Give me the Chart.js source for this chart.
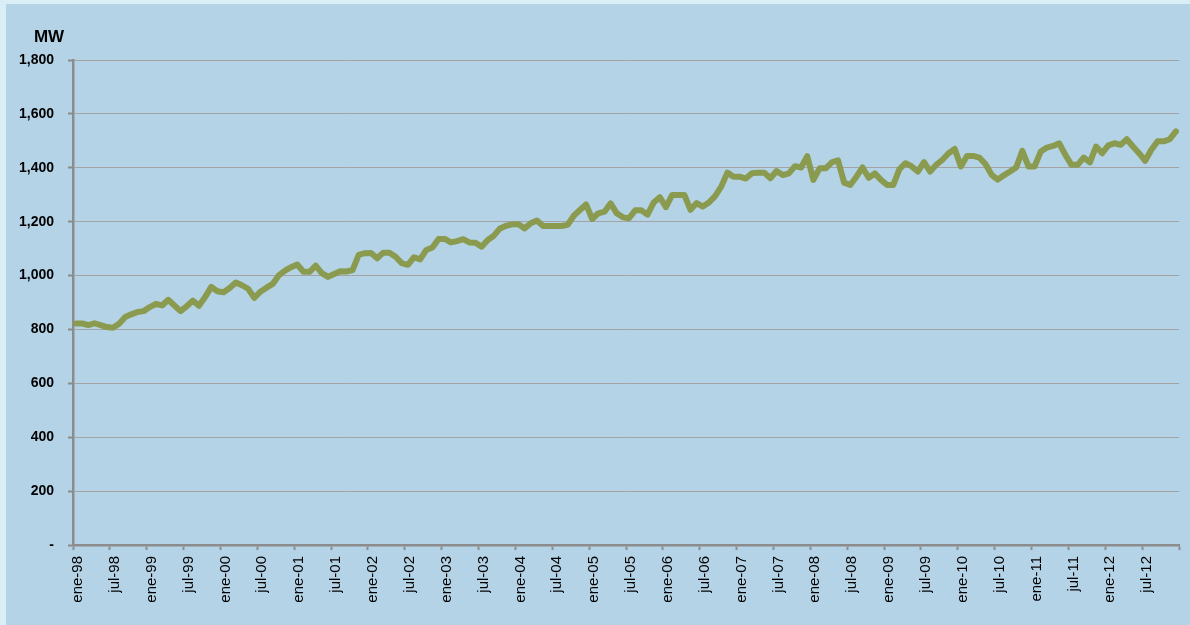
<!DOCTYPE html>
<html>
<head>
<meta charset="utf-8">
<script src="https://cdn.jsdelivr.net/npm/chart.js@4.4.0/dist/chart.umd.min.js"></script>
<style>
    html, body {
        margin: 0;
        padding: 0;
        background: #d9eef5;
        width: 1190px;
        height: 625px;
        overflow: hidden;
    }
    #panel {
        position: absolute;
        left: 6px;
        top: 4px;
        width: 1184px;
        height: 621px;
        background: #b4d3e6;
    }
</style>
</head>
<body>
<div id="panel"><canvas id="demanda"></canvas></div>
<script>
    // etiquetas del eje X, una cada seis meses
    const TICK_LABELS = [
        'ene-98', 'jul-98', 'ene-99', 'jul-99', 'ene-00', 'jul-00',
        'ene-01', 'jul-01', 'ene-02', 'jul-02', 'ene-03', 'jul-03',
        'ene-04', 'jul-04', 'ene-05', 'jul-05', 'ene-06', 'jul-06',
        'ene-07', 'jul-07', 'ene-08', 'jul-08', 'ene-09', 'jul-09',
        'ene-10', 'jul-10', 'ene-11', 'jul-11', 'ene-12', 'jul-12'
    ];

    // demanda mensual en MW, ene-98 a dic-12
    const MW = [
        822, 822, 816, 823, 816, 809, 806, 821, 846, 856,
        865, 868, 883, 895, 889, 910, 889, 868, 886, 907,
        888, 920, 958, 942, 938, 954, 974, 964, 951, 917,
        940, 955, 969, 1001, 1018, 1031, 1041, 1014, 1014, 1037,
        1009, 995, 1006, 1016, 1015, 1020, 1077, 1083, 1084, 1064,
        1085, 1085, 1070, 1046, 1040, 1068, 1060, 1095, 1104, 1136,
        1136, 1123, 1128, 1135, 1123, 1122, 1107, 1132, 1148, 1175,
        1185, 1190, 1190, 1175, 1194, 1204, 1184, 1184, 1184, 1184,
        1188, 1222, 1243, 1264, 1210, 1231, 1237, 1268, 1231, 1216,
        1213, 1242, 1242, 1226, 1271, 1291, 1254, 1299, 1299, 1299,
        1244, 1269, 1256, 1271, 1295, 1330, 1382, 1367, 1367, 1360,
        1380, 1382, 1382, 1361, 1388, 1373, 1379, 1406, 1401, 1443,
        1355, 1398, 1398, 1420, 1428, 1345, 1336, 1367, 1401, 1363,
        1379, 1355, 1336, 1336, 1395, 1417, 1405, 1386, 1421, 1386,
        1411, 1430, 1454, 1470, 1405, 1444, 1444, 1438, 1414, 1374,
        1356, 1372, 1386, 1401, 1463, 1405, 1405, 1460, 1475, 1481,
        1491, 1448, 1411, 1411, 1438, 1420, 1479, 1454, 1483, 1491,
        1485, 1506, 1479, 1454, 1426, 1467, 1498, 1498, 1506, 1535
    ];

    const FONT = '"Liberation Sans", Arial, sans-serif';
    const AXIS_GRAY = '#8c8c8c';

    // cada mes va centrado entre sus marcas
    const points = MW.map((v, i) => ({ x: i + 0.5, y: v }));

    const unidad = {
        id: 'unidad',
        afterDraw(chart) {
            const ctx = chart.ctx;
            const area = chart.chartArea;
            ctx.save();
            ctx.font = 'bold 17px ' + FONT;
            ctx.fillStyle = '#000';
            ctx.textAlign = 'center';
            ctx.textBaseline = 'alphabetic';
            ctx.fillText('MW', area.left - 24, area.top - 18);
            ctx.restore();
        }
    };

    new Chart(document.getElementById('demanda'), {
        type: 'line',
        data: {
            datasets: [{
                label: 'MW',
                data: points,
                borderColor: '#8a9b4f',
                borderWidth: 6,
                borderJoinStyle: 'round',
                borderCapStyle: 'round',
                pointRadius: 0,
                tension: 0,
                fill: false
            }]
        },
        options: {
            responsive: true,
            maintainAspectRatio: false,
            animation: false,
            layout: {
                padding: { left: 0, top: 56, right: 11, bottom: 0 }
            },
            plugins: {
                legend: { display: false },
                tooltip: { enabled: false }
            },
            scales: {
                x: {
                    type: 'linear',
                    min: 0,
                    max: 180,
                    afterFit: scale => {
                        scale.height = 80;
                        scale.paddingLeft = 0;
                        scale.paddingRight = 0;
                    },
                    border: { color: AXIS_GRAY, width: 2.5 },
                    grid: {
                        drawOnChartArea: false,
                        drawTicks: true,
                        tickLength: 5,
                        tickWidth: 2,
                        tickColor: AXIS_GRAY
                    },
                    ticks: {
                        stepSize: 6,
                        autoSkip: false,
                        minRotation: 90,
                        maxRotation: 90,
                        padding: 6,
                        labelOffset: 5,
                        color: '#000',
                        font: { family: FONT, size: 15 },
                        callback: value => TICK_LABELS[value / 6] || ''
                    }
                },
                y: {
                    min: 0,
                    max: 1800,
                    afterFit: scale => { scale.width = 67; },
                    border: { color: AXIS_GRAY, width: 2.5 },
                    grid: {
                        color: '#a3a3a3',
                        lineWidth: 1,
                        tickLength: 5,
                        tickWidth: 2,
                        tickColor: AXIS_GRAY
                    },
                    ticks: {
                        stepSize: 200,
                        padding: 14,
                        color: '#000',
                        font: { family: FONT, size: 14, weight: 'bold' },
                        callback: value => value === 0 ? '-' : value.toLocaleString('en-US')
                    }
                }
            }
        },
        plugins: [unidad]
    });
</script>
</body>
</html>
